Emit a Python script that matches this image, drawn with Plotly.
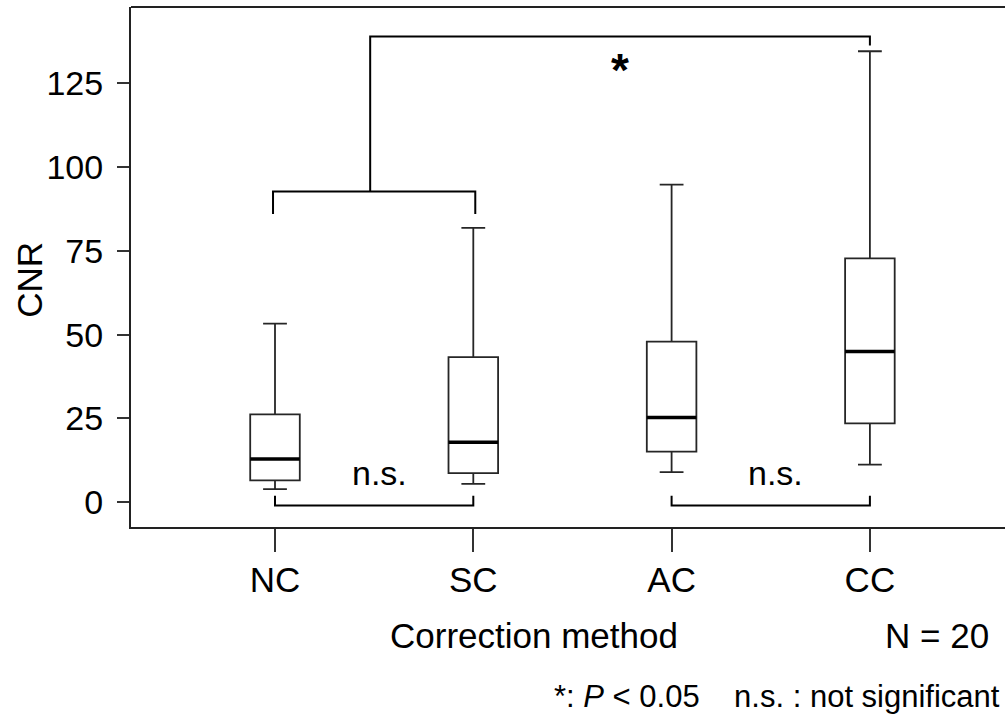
import plotly.graph_objects as go

# ---- data ----
categories = ["NC", "SC", "AC", "CC"]
upper_whisker = [53.3, 81.9, 94.8, 134.6]
q3_values = [26.2, 43.3, 47.9, 72.8]
median_values = [12.9, 17.9, 25.3, 45.0]
q1_values = [6.5, 8.7, 15.1, 23.5]
lower_whisker = [3.9, 5.5, 9.0, 11.2]
y_ticks = [0, 25, 50, 75, 100, 125]

# significance annotations
ns_pairs = [("NC", "SC"), ("AC", "CC")]
sig_group_left = ("NC", "SC")
sig_group_right = "CC"

FONT = "Liberation Sans, Arial, sans-serif"
pos = {c: i for i, c in enumerate(categories)}
xs = [pos[c] for c in categories]

W, H = 1005, 719
L, R, T, B = 131, 0, 7, 191.5
pw, ph = W - L - R, H - T - B
SPACING = 198.3

fig = go.Figure()
BOX_W = 0.25
fig.add_trace(go.Box(
    x=xs, q1=q1_values, median=median_values, q3=q3_values,
    lowerfence=lower_whisker, upperfence=upper_whisker,
    width=BOX_W, whiskerwidth=0.48,
    fillcolor="white", line=dict(color="#262626", width=1.8),
    boxpoints=False, showlegend=False, hoverinfo="skip",
))

shapes = []
# thick medians
for x, m in zip(xs, median_values):
    shapes.append(dict(type="line", xref="x", yref="y", x0=x - BOX_W / 2, x1=x + BOX_W / 2,
                       y0=m, y1=m, line=dict(color="black", width=3.5)))

LINE = dict(color="black", width=2)
# bottom n.s. brackets
for a, b in ns_pairs:
    xa, xb = pos[a], pos[b]
    shapes.append(dict(type="path", xref="x", yref="y",
                       path=f"M {xa},1.9 L {xa},-1.0 L {xb},-1.0 L {xb},1.9", line=LINE))
# upper bracket NC-SC
xa, xb = pos[sig_group_left[0]], pos[sig_group_left[1]]
shapes.append(dict(type="path", xref="x", yref="y",
                   path=f"M {xa-0.01},86.0 L {xa-0.01},92.7 L {xb+0.01},92.7 L {xb+0.01},86.0", line=LINE))
# top bracket to CC
xm = (xa + xb) / 2 - 0.02
xc = pos[sig_group_right]
shapes.append(dict(type="path", xref="x", yref="y",
                   path=f"M {xm},92.7 L {xm},139.0 L {xc},139.0 L {xc},136.3", line=LINE))
# top frame line
shapes.append(dict(type="line", xref="paper", yref="paper", x0=0, x1=1, y0=1, y1=1,
                   line=dict(color="#222", width=2)))


def px(xp):
    return (xp - L) / pw


def py(yp):
    return (H - B - yp) / ph


annotations = []
for a, b in ns_pairs:
    annotations.append(dict(x=(pos[a] + pos[b]) / 2 + 0.025, y=8.6, xref="x", yref="y",
                            text="n.s.", showarrow=False, font=dict(size=34, family=FONT, color="black")))
annotations.append(dict(x=1.74, y=129.0, xref="x", yref="y", text="<b>*</b>", showarrow=False,
                        font=dict(size=46, family=FONT, color="black")))
annotations.append(dict(x=px(30), y=py(280), xref="paper", yref="paper", text="CNR", textangle=-90,
                        xanchor="center", yanchor="middle",
                        showarrow=False, font=dict(size=35, family=FONT, color="black")))
annotations.append(dict(x=px(534), y=py(636), xref="paper", yref="paper", text="Correction method",
                        xanchor="center", yanchor="middle",
                        showarrow=False, font=dict(size=35, family=FONT, color="black")))
annotations.append(dict(x=px(991), y=py(636), xref="paper", yref="paper", text="N = 20",
                        xanchor="right", yanchor="middle",
                        showarrow=False, font=dict(size=35, family=FONT, color="black")))
annotations.append(dict(x=px(1002), y=py(697), xref="paper", yref="paper",
                        text="*: <i>P</i> < 0.05    n.s. : not significant",
                        xanchor="right", yanchor="middle",
                        showarrow=False, font=dict(size=31, family=FONT, color="black")))

x0 = -(275 - L) / SPACING
fig.update_layout(
    width=W, height=H,
    margin=dict(l=L, r=R, t=T, b=B, pad=0),
    paper_bgcolor="white", plot_bgcolor="white",
    font=dict(family=FONT, color="black"),
    shapes=shapes, annotations=annotations,
    xaxis=dict(range=[x0, x0 + pw / SPACING],
               tickvals=xs, ticktext=categories, ticks="outside", ticklen=23, tickwidth=2,
               tickcolor="#333", showline=True, linecolor="#222", linewidth=2,
               showgrid=False, zeroline=False, tickfont=dict(size=35, family=FONT, color="black"),
               ticklabelstandoff=-2),
    yaxis=dict(range=[-7.4, 147.8], tickvals=y_ticks, ticks="outside", ticklen=12, tickwidth=2,
               tickcolor="#333", showline=True, linecolor="#222", linewidth=2,
               showgrid=False, zeroline=False, tickfont=dict(size=34, family=FONT, color="black"),
               ticklabelstandoff=7),
)

fig.write_html("out.html")
